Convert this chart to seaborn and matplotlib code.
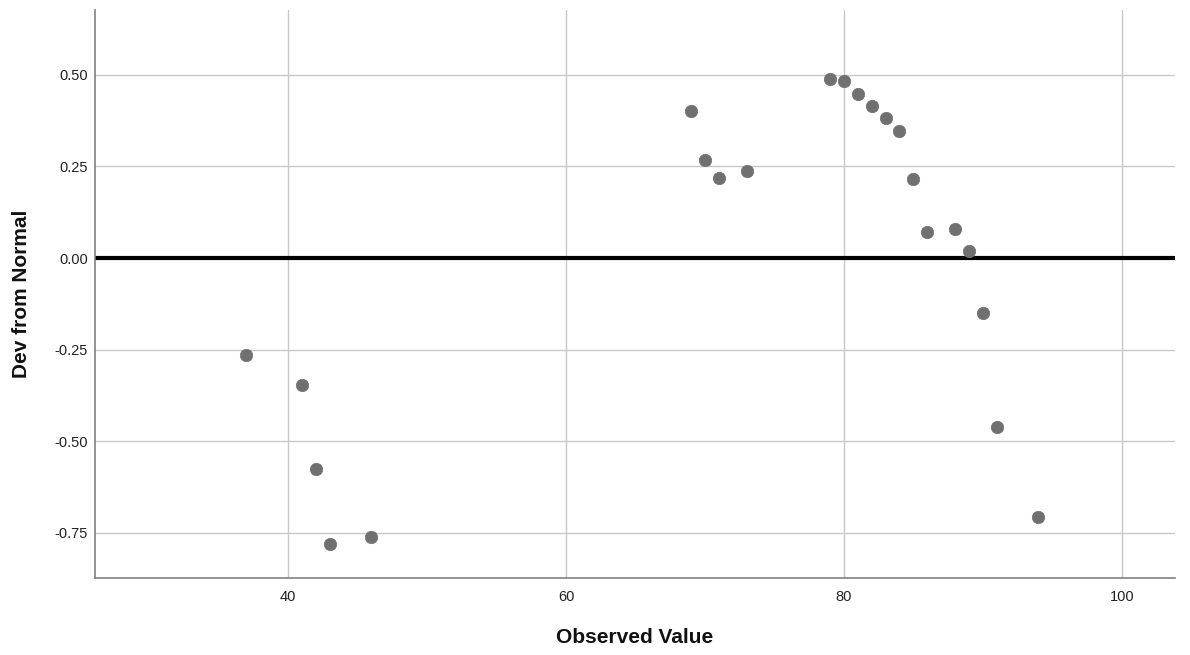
import numpy as np
import pandas as pd
import matplotlib
matplotlib.use("Agg")
import matplotlib.pyplot as plt
import seaborn as sns

observed = [37, 41, 42, 43, 46, 69, 70, 71, 73, 79, 80, 81, 82, 83, 84, 85, 86, 88, 89, 90, 91, 94]
deviation = [-0.265, -0.347, -0.576, -0.780, -0.761, 0.401, 0.267, 0.218, 0.237, 0.489, 0.483,
             0.448, 0.415, 0.382, 0.347, 0.216, 0.071, 0.079, 0.019, -0.150, -0.461, -0.707]
x_ticks = [40, 60, 80, 100]
y_ticks = [-0.75, -0.50, -0.25, 0.00, 0.25, 0.50]

df = pd.DataFrame({"Observed Value": observed, "Dev from Normal": deviation})

sns.set_style("white")
plt.rcParams["font.family"] = ["Liberation Sans", "DejaVu Sans"]

fig = plt.figure(figsize=(11.9, 6.55), dpi=100)
ax = fig.add_axes([0.0798, 0.1176, 0.9072, 0.8671])

ax.set_xlim(26.1, 103.8)
ax.set_ylim(-0.873, 0.677)
ax.set_xticks(x_ticks)
ax.set_yticks(y_ticks)
ax.set_yticklabels([f"{v:.2f}" for v in y_ticks])
ax.grid(True, color="#c8c8c8", linewidth=1)
ax.set_axisbelow(True)

ax.axhline(0, color="black", linewidth=3, zorder=2)

sns.scatterplot(data=df, x="Observed Value", y="Dev from Normal", ax=ax,
                color="#707070", s=80, edgecolor="#707070", linewidth=0.5, zorder=3)

for side in ["top", "right"]:
    ax.spines[side].set_visible(False)
for side in ["left", "bottom"]:
    ax.spines[side].set_color("#808080")
    ax.spines[side].set_linewidth(1.2)

ax.tick_params(axis="both", length=0, labelsize=10.5, colors="#222222", pad=5)
ax.tick_params(axis="x", pad=9)
ax.set_xlabel("Observed Value", fontsize=15, fontweight="bold", color="#111111")
ax.set_ylabel("Dev from Normal", fontsize=15, fontweight="bold", color="#111111")
ax.xaxis.set_label_coords(0.5, -0.105)
ax.yaxis.set_label_coords(-0.068, 0.5)
ax.xaxis.label.set_va("center")
ax.yaxis.label.set_va("center")

fig.savefig("out.png", dpi=100)
